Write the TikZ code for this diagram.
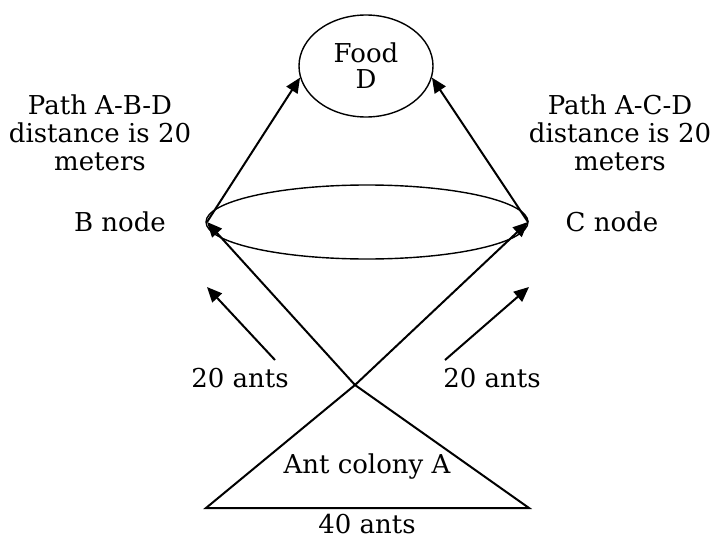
\documentclass[tikz,border=0pt]{standalone}
\usepackage{fontspec}
\setmainfont{DejaVu Serif}
\usetikzlibrary{positioning,calc,arrows.meta,shapes.geometric}

\begin{document}
\begin{tikzpicture}[
    x=0.5pt, y=-0.5pt,
    label/.style={font=\fontsize{13}{14}\selectfont, align=center, inner sep=1pt},
    food/.style={ellipse, draw, line width=0.7pt, inner sep=0pt, minimum width=67pt, minimum height=51pt, font=\fontsize{13}{13}\selectfont, align=center},
    path/.style={draw, line width=1pt},
    arrow/.style={draw, line width=1pt, -{Triangle[length=7.5pt,width=6.5pt]}}
]
\useasboundingbox (0,0) rectangle (721,540);

% Define node positions
\node[food] (D) at (366,66) {Food\\D};
\coordinate (B) at (207,222);
\coordinate (C) at (528,222);
\coordinate (A) at (355,385);
\coordinate (AL) at (206,508);
\coordinate (AR) at (529,508);

% Crossing paths between B and C
\draw[line width=0.7pt] (367,222) ellipse [x radius=161, y radius=37];

% Ant colony triangle
\draw[path] (A) -- (AL) -- (AR) -- cycle;

% Add labels
\node[label] (pathB) at (100,133) {Path A-B-D\\distance is 20\\meters};
\node[label] (pathC) at (620,133) {Path A-C-D\\distance is 20\\meters};
\node[label] (nodeB) at (120,222) {B node};
\node[label] (nodeC) at (612,222) {C node};
\node[label] (antsB) at (240,378) {20 ants};
\node[label] (antsC) at (492,378) {20 ants};
\node[label] (colony) at (367,467) {Ant colony A};
\node[label] (total) at (367,524) {40 ants};

% Draw arrows
\draw[arrow] (A) -- (B);
\draw[arrow] (A) -- (C);
\draw[arrow] (B) -- (D.190);
\draw[arrow] (C) -- (D.350);

% Flow arrows beside the ant counts
\coordinate (fB1) at (275,360);
\coordinate (fB2) at (207,287);
\coordinate (fC1) at (445,360);
\coordinate (fC2) at (529,287);
\draw[arrow] (fB1) -- (fB2);
\draw[arrow] (fC1) -- (fC2);

\end{tikzpicture}
\end{document}
